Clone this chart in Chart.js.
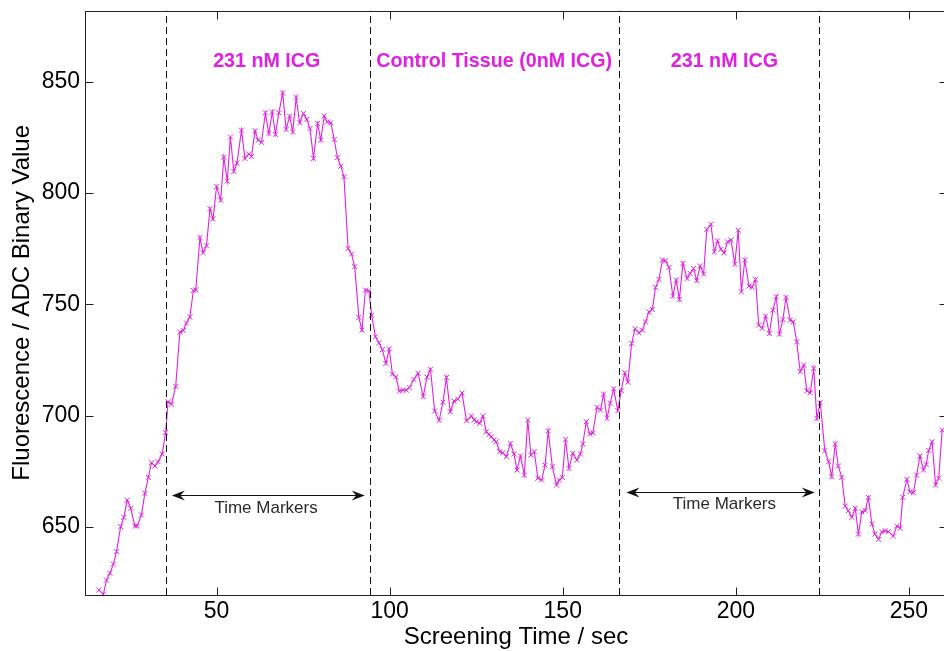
<!DOCTYPE html>
<html>
<head>
<meta charset="utf-8">
<script src="https://cdn.jsdelivr.net/npm/chart.js@4.4.1/dist/chart.umd.min.js"></script>
<style>
  html, body { margin: 0; padding: 0; background: #fff; overflow: hidden; }
  #fluo-chart { display: block; }
</style>
</head>
<body>
<canvas id="fluo-chart" width="952" height="651"></canvas>
<script>
/* ================================================
   Fluorescence screening trace — Chart.js v4
   ================================================ */

// --- data (time in s, ADC value) ---
const times = [
  16.0, 17.3, 18.2, 19.2, 20.2, 21.1, 22.3, 23.2, 24.2, 25.2, 26.4, 27.1, 28.3, 29.3, 30.3, 31.2, 32.2, 33.1, 34.3, 35.3,
  36.0, 37.0, 38.2, 39.4, 40.4, 41.3, 42.3, 43.3, 44.0, 45.2, 46.1, 47.1, 48.1, 49.0, 50.0, 51.2, 52.1, 53.1, 54.0, 55.0,
  55.9, 57.2, 58.2, 59.3, 60.1, 61.1, 62.0, 63.0, 64.1, 65.1, 66.1, 67.0, 68.0, 69.1, 70.1, 71.1, 72.0, 73.0, 74.0, 75.1,
  76.1, 77.0, 78.0, 79.2, 80.1, 81.1, 82.0, 83.0, 84.0, 84.9, 85.9, 86.8, 88.0, 89.0, 89.9, 91.1, 92.0, 93.0, 94.0, 94.8,
  95.9, 96.9, 97.9, 98.9, 99.9, 100.8, 101.8, 102.8, 103.8, 104.8, 105.7, 107.0, 108.2, 109.7, 110.8, 111.8, 113.0, 114.3, 115.4, 116.4,
  117.5, 118.6, 119.7, 120.9, 122.2, 123.6, 124.4, 125.1, 126.0, 127.0, 127.9, 128.7, 129.4, 130.2, 130.8, 131.8, 132.7, 133.7, 134.9, 135.9,
  136.8, 137.8, 138.9, 139.9, 140.8, 141.8, 142.8, 143.9, 144.9, 145.8, 147.0, 148.2, 149.0, 149.9, 150.8, 151.8, 152.9, 154.1, 155.1, 155.8,
  156.8, 157.8, 158.7, 159.9, 160.9, 161.8, 162.8, 163.7, 164.7, 165.9, 166.9, 167.9, 168.8, 169.9, 170.9, 172.0, 173.0, 173.9, 174.9, 175.9,
  176.8, 177.8, 178.8, 179.7, 180.7, 181.8, 182.8, 183.7, 184.7, 185.9, 186.8, 187.8, 188.7, 189.7, 190.7, 191.6, 192.8, 193.8, 194.7, 195.7,
  196.6, 197.6, 198.6, 199.7, 200.7, 201.6, 202.6, 203.8, 204.7, 205.7, 206.6, 207.6, 208.6, 209.7, 210.7, 211.7, 212.6, 213.6, 214.5, 215.7,
  216.6, 217.6, 218.6, 219.6, 220.5, 221.5, 222.5, 223.4, 224.4, 225.7, 226.8, 227.7, 228.7, 229.6, 230.6, 231.6, 232.5, 233.5, 234.5, 235.4,
  236.4, 237.4, 238.3, 239.3, 240.2, 241.2, 242.2, 243.1, 244.1, 245.5, 246.5, 247.5, 248.2, 249.4, 250.3, 251.3, 252.2, 253.2, 254.2, 255.0,
  255.7, 256.7, 257.7, 258.6, 259.6
];
const fluorescence = [
  621.6, 619.6, 626.0, 629.1, 633.2, 638.8, 650.0, 654.2, 662.0, 658.3, 650.3, 650.3, 655.3, 665.0, 672.2, 678.8, 677.3, 679.2, 682.7, 692.4,
  706.2, 705.1, 713.1, 737.5, 738.2, 741.6, 744.3, 756.2, 756.5, 780.0, 773.2, 776.3, 793.0, 788.4, 802.9, 796.8, 816.1, 805.4, 825.2, 809.7,
  813.5, 828.3, 815.5, 817.6, 816.5, 828.0, 823.8, 822.8, 836.1, 826.8, 836.5, 826.4, 836.1, 845.0, 828.6, 834.6, 827.5, 843.0, 831.6, 835.8,
  833.1, 829.0, 815.6, 831.3, 823.8, 834.7, 832.0, 831.6, 824.1, 816.0, 812.1, 807.3, 775.1, 772.6, 766.9, 744.1, 738.4, 756.4, 756.1, 745.1,
  735.4, 732.7, 729.6, 723.4, 729.9, 718.6, 717.4, 711.0, 711.4, 711.4, 712.5, 716.2, 719.0, 708.5, 717.3, 720.8, 702.0, 697.8, 706.0, 717.1,
  701.7, 706.5, 707.3, 710.1, 697.6, 699.8, 698.0, 697.2, 696.5, 699.8, 692.7, 691.5, 690.4, 689.0, 688.2, 683.7, 683.3, 681.5, 687.5, 682.7,
  675.5, 681.8, 673.2, 698.0, 682.2, 683.7, 671.8, 671.0, 677.7, 693.1, 677.0, 668.7, 671.0, 672.2, 689.3, 676.2, 683.0, 680.0, 682.7, 687.2,
  697.2, 691.7, 692.2, 703.7, 702.4, 709.6, 698.7, 705.5, 712.0, 702.2, 711.2, 719.2, 715.0, 732.4, 739.0, 737.2, 738.4, 742.1, 746.6, 747.7,
  757.6, 761.2, 769.9, 769.6, 766.6, 753.7, 760.9, 752.2, 768.4, 761.6, 763.9, 766.1, 760.6, 767.2, 763.6, 783.7, 786.0, 773.6, 778.5, 774.7,
  773.1, 778.1, 778.9, 768.1, 783.3, 755.6, 769.9, 758.2, 757.6, 761.2, 740.7, 739.2, 744.7, 736.9, 747.4, 753.4, 736.6, 743.2, 753.1, 742.9,
  742.1, 733.1, 719.7, 722.7, 711.1, 710.2, 721.2, 698.7, 705.7, 684.2, 679.2, 672.5, 687.2, 677.3, 672.2, 659.3, 657.2, 654.2, 658.3, 646.7,
  656.7, 657.2, 663.2, 651.2, 646.7, 644.3, 647.8, 648.2, 647.8, 645.8, 650.3, 649.3, 663.2, 671.3, 665.7, 665.3, 673.2, 681.8, 675.5, 678.0,
  684.3, 688.2, 668.7, 671.8, 693.5
];

const markerTimes = [35.3, 94.3, 166.2, 224.0];          // dashed time markers
const regionLabels = ['231 nM ICG', 'Control Tissue (0nM ICG)', '231 nM ICG'];
const xTicks = [50, 100, 150, 200, 250];
const yTicks = [650, 700, 750, 800, 850];

// --- styling ---
const MAGENTA = '#e020e0';
const FONT = 'Arial, "Liberation Sans", Helvetica, sans-serif';

// annotation placement in data units
const labelAt = [{ x: 64.5, y: 859.3 }, { x: 130.2, y: 859.3 }, { x: 196.7, y: 859.3 }];
const arrows = [
  { x0: 37.1, x1: 92.8, y: 664.2, tx: 64.3, ty: 658.2 },
  { x0: 168.4, x1: 222.8, y: 665.7, tx: 196.7, ty: 660.0 },
];

function arrowHead(ctx, tipX, y, dir) {
  const L = 13, W = 5;
  ctx.beginPath();
  ctx.moveTo(tipX, y);
  ctx.lineTo(tipX + dir * L, y - W);
  ctx.lineTo(tipX + dir * L * 0.65, y);
  ctx.lineTo(tipX + dir * L, y + W);
  ctx.closePath();
  ctx.fill();
}

const frameAndMarks = {
  id: 'frameAndMarks',
  afterDatasetsDraw(chart) {
    const { ctx, chartArea: a, scales: { x, y } } = chart;
    ctx.save();

    // dashed vertical markers
    ctx.strokeStyle = '#111';
    ctx.lineWidth = 1;
    ctx.setLineDash([7, 4]);
    markerTimes.forEach(t => {
      const px = Math.round(x.getPixelForValue(t)) + 0.5;
      ctx.beginPath(); ctx.moveTo(px, a.bottom); ctx.lineTo(px, a.top); ctx.stroke();
    });
    ctx.setLineDash([]);

    // box frame
    ctx.strokeStyle = '#222';
    const L = Math.round(a.left) + 0.5, R = Math.round(a.right) + 0.5;
    const T = Math.round(a.top) + 0.5, B = Math.round(a.bottom) + 0.5;
    ctx.strokeRect(L, T, R - L, B - T);

    // inward tick marks
    const tl = 8;
    ctx.beginPath();
    xTicks.forEach(v => {
      const px = Math.round(x.getPixelForValue(v)) + 0.5;
      ctx.moveTo(px, B); ctx.lineTo(px, B - tl);
      ctx.moveTo(px, T); ctx.lineTo(px, T + tl);
    });
    yTicks.forEach(v => {
      const py = Math.round(y.getPixelForValue(v)) + 0.5;
      ctx.moveTo(L, py); ctx.lineTo(L + tl, py);
      ctx.moveTo(R, py); ctx.lineTo(R - tl, py);
    });
    ctx.stroke();

    // region labels
    ctx.fillStyle = MAGENTA;
    ctx.font = 'bold 19.7px ' + FONT;
    ctx.textAlign = 'center';
    ctx.textBaseline = 'middle';
    regionLabels.forEach((txt, i) => {
      ctx.fillText(txt, x.getPixelForValue(labelAt[i].x), y.getPixelForValue(labelAt[i].y));
    });

    // double-headed "Time Markers" arrows
    arrows.forEach(ar => {
      const x0 = x.getPixelForValue(ar.x0), x1 = x.getPixelForValue(ar.x1);
      const py = Math.round(y.getPixelForValue(ar.y)) + 0.5;
      ctx.strokeStyle = '#111'; ctx.fillStyle = '#111'; ctx.lineWidth = 1.2;
      ctx.beginPath(); ctx.moveTo(x0 + 8, py); ctx.lineTo(x1 - 8, py); ctx.stroke();
      arrowHead(ctx, x0, py, 1);
      arrowHead(ctx, x1, py, -1);
      ctx.fillStyle = '#2a2a2a';
      ctx.font = '17px ' + FONT;
      ctx.fillText('Time Markers', x.getPixelForValue(ar.tx), y.getPixelForValue(ar.ty));
    });

    ctx.restore();
  }
};

const tickFont = { family: FONT, size: 23 };
const titleFont = { family: FONT, size: 24, lineHeight: 1 };

const canvas = document.getElementById('fluo-chart');
new Chart(canvas, {
  type: 'line',
  data: {
    datasets: [{
      data: times.map((t, i) => ({ x: t, y: fluorescence[i] })),
      borderColor: MAGENTA, borderWidth: 1.1, tension: 0,
      pointStyle: 'crossRot', pointRadius: 3.5, pointBorderWidth: 1,
      pointBorderColor: MAGENTA, pointBackgroundColor: MAGENTA,
    }],
  },
  options: {
    responsive: false, animation: false, devicePixelRatio: 1,
    layout: { padding: { top: 10.7, right: 4.6, left: 0, bottom: 0 } },
    plugins: { legend: { display: false }, tooltip: { enabled: false } },
    scales: {
      x: {
        type: 'linear', min: 12, max: 261,
        afterBuildTicks: s => { s.ticks = xTicks.map(v => ({ value: v })); },
        afterFit: s => { s.height = 56; s.paddingLeft = 0; s.paddingRight = 0; },
        grid: { display: false, drawTicks: false }, border: { display: false },
        ticks: { font: tickFont, color: '#000', padding: 3, maxRotation: 0, autoSkip: false },
        title: { display: true, text: 'Screening Time / sec', font: titleFont, color: '#000', padding: { top: 0, bottom: 2 } },
      },
      y: {
        min: 619.3, max: 882,
        afterBuildTicks: s => { s.ticks = yTicks.map(v => ({ value: v })); },
        afterFit: s => { s.width = 85; s.paddingTop = 0; s.paddingBottom = 0; },
        grid: { display: false, drawTicks: false }, border: { display: false },
        ticks: { font: tickFont, color: '#000', padding: 5 },
        title: { display: true, text: 'Fluorescence / ADC Binary Value', font: titleFont, color: '#000', padding: { top: 10, bottom: 0 } },
      },
    },
  },
  plugins: [frameAndMarks],
});
</script>
</body>
</html>
